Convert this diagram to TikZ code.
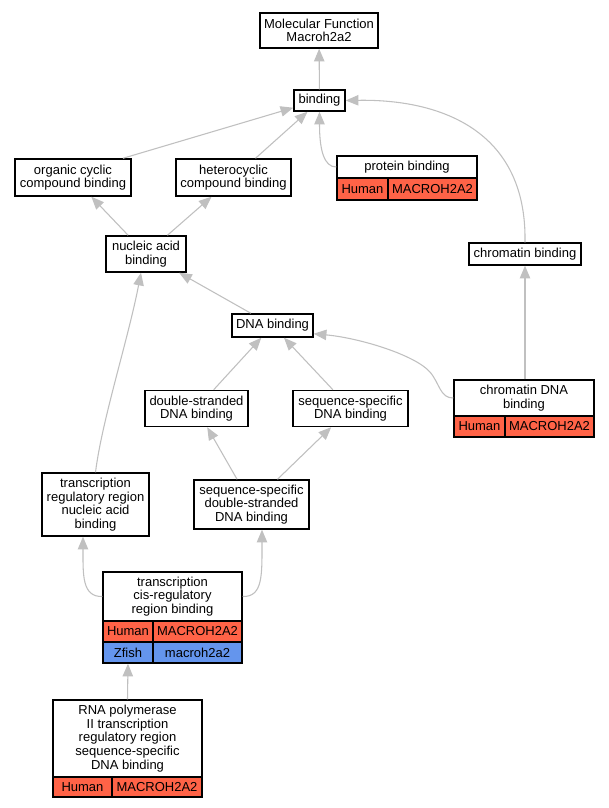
\documentclass[tikz,border=0pt]{standalone}
\usepackage{fontspec}
\setmainfont{Liberation Sans}
\usetikzlibrary{arrows.meta,calc}
\definecolor{edgegray}{RGB}{192,192,192}
\definecolor{humanred}{RGB}{255,99,71}
\definecolor{fishblue}{RGB}{100,149,237}
\begin{document}
\begin{tikzpicture}[x=0.75pt,y=-0.75pt,
  every node/.style={font=\fontsize{9.75}{10.2}\selectfont},
  term/.style n args={2}{draw=black, line width=1.1pt, fill=white, inner sep=0pt, align=center, minimum width=#1*0.75pt, minimum height=#2*0.75pt},
  human/.style n args={2}{term={#1}{#2}, fill=humanred},
  fish/.style n args={2}{term={#1}{#2}, fill=fishblue},
  link/.style={draw=edgegray, line width=0.8pt, -{Triangle[length=9.5pt,width=7.8pt]}}
]
\path[use as bounding box, fill=white] (0,0) rectangle (609,808);

% plain terms
\node[term={118}{35}] (mf) at (319,30.5) {Molecular Function\\Macroh2a2};
\node[term={51}{21}] (bind) at (319.5,100.5) {binding};
\node[term={116}{37}] (org) at (73,177.5) {organic cyclic\\compound binding};
\node[term={115}{37}] (het) at (233.5,177.5) {heterocyclic\\compound binding};
\node[term={80}{36}] (nuc) at (146,254) {nucleic acid\\binding};
\node[term={112}{22}] (chrom) at (525,254) {chromatin binding};
\node[term={81}{23}] (dna) at (272.5,325.5) {DNA binding};
\node[term={103}{36}] (ds) at (196.5,408.5) {double-stranded\\DNA binding};
\node[term={115}{36}] (ss) at (350.5,408.5) {sequence-specific\\DNA binding};
\node[term={107}{63}] (trr) at (95.5,504.5) {transcription\\regulatory region\\nucleic acid\\binding};
\node[term={115}{49}] (ssds) at (251.5,504.5) {sequence-specific\\double-stranded\\DNA binding};

% annotated terms
\node[term={140}{22}] (prot) at (407,167) {protein binding};
\node[human={51}{22}] (ph) at (362.5,189) {Human};
\node[human={89}{22}] (pg) at (432.5,189) {MACROH2A2};

\node[term={140}{36}] (cdna) at (524,398) {chromatin DNA\\binding};
\node[human={51}{21}] (ch) at (479.5,426.5) {Human};
\node[human={89}{21}] (cg) at (549.5,426.5) {MACROH2A2};

\node[term={139}{49}] (tcis) at (172.5,596.5) {transcription\\cis-regulatory\\region binding};
\node[human={50}{21}] (th) at (128,631.5) {Human};
\node[human={89}{21}] (tg) at (197.5,631.5) {MACROH2A2};
\node[fish={50}{21}] (tzh) at (128,652.5) {Zfish};
\node[fish={89}{21}] (tzg) at (197.5,652.5) {macroh2a2};

\node[term={149}{77}] (rna) at (127.5,738.5) {RNA polymerase\\II transcription\\regulatory region\\sequence-specific\\DNA binding};
\node[human={59}{20}] (rh) at (82.5,787) {Human};
\node[human={90}{20}] (rg) at (157,787) {MACROH2A2};

% connectors
\draw[link] (bind) -- (mf);
\draw[link] ($(org.north)+(50,0)$) -- ($(bind.south west)+(0,-4)$);
\draw[link] ($(het.north)+(22,0)$) -- ($(bind.south)+(-12,0)$);
\draw[link] (prot.west) .. controls (324,167) and (319.5,150) .. (bind.south);
\draw[link] (chrom.north) .. controls (527,130) and (440,99) .. (bind.east);
\draw[link] (nuc) -- (org);
\draw[link] (nuc) -- (het);
\draw[link] (dna) -- (nuc);
\draw[link] (trr.north) .. controls (102,420) and (128,340) .. ($(nuc.south)+(-5,0)$);
\draw[link] (cdna.north -| chrom) -- (chrom);
\coordinate (k1) at (430,372);
\draw[link] (cdna.west) .. controls (440,398) and (440,384) .. (k1) .. controls (415,355) and (360,338) .. ($(dna.south east)+(0,-4)$);
\draw[link] (ds) -- (dna);
\draw[link] (ss) -- (dna);
\draw[link] (ssds) -- (ds);
\draw[link] (ssds) -- (ss);
\draw[link] (tcis.west) .. controls (82,597) and (83,575) .. ($(trr.south)+(-12.5,0)$);
\draw[link] (tcis.east) .. controls (263,597) and (262,575) .. ($(ssds.south)+(10.5,0)$);
\draw[link] (rna.north) -- (tzh.south);
\end{tikzpicture}
\end{document}
